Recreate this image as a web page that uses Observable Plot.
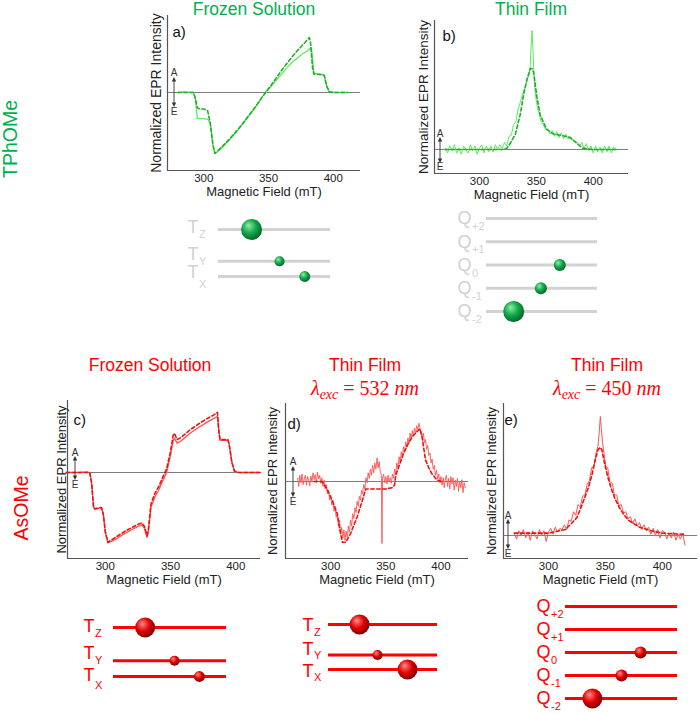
<!DOCTYPE html>
<html><head><meta charset="utf-8">
<script src="https://cdn.jsdelivr.net/npm/d3@7"></script>
<script src="https://cdn.jsdelivr.net/npm/@observablehq/plot@0.6"></script>
<style>
body{margin:0;background:#fff;}
#fig{position:relative;width:700px;height:714px;font-family:"Liberation Sans",Arial,sans-serif;overflow:hidden;background:#fff;}
.t{position:absolute;font-size:17.5px;transform:translate(-50%,-50%);white-space:nowrap;line-height:1;}
.lam{position:absolute;font-family:"Liberation Serif","DejaVu Serif",serif;font-size:20px;transform:translate(-50%,-50%);white-space:nowrap;line-height:1;color:#f00;}
.lam sub{font-size:14px;vertical-align:-0.25em;line-height:1;}
.row{position:absolute;font-size:19.5px;transform:translate(-50%,-50%) rotate(-90deg);white-space:nowrap;line-height:1;}
</style></head><body><div id="fig">
<div class="t" style="left:254px;top:10px;color:#00b050">Frozen Solution</div>
<div class="t" style="left:531px;top:10px;color:#00b050">Thin Film</div>
<div class="row" style="left:11px;top:139px;color:#00b050">TPhOMe</div>
<div class="row" style="left:22px;top:508px;color:#f00">AsOMe</div>
<div class="t" style="left:150px;top:366px;color:#f00">Frozen Solution</div>
<div class="t" style="left:365px;top:366px;color:#f00">Thin Film</div>
<div class="lam" style="left:365px;top:390px"><i>λ</i><sub><i>exc</i></sub> = 532 <i>nm</i></div>
<div class="t" style="left:607px;top:366px;color:#f00">Thin Film</div>
<div class="lam" style="left:607px;top:390px"><i>λ</i><sub><i>exc</i></sub> = 450 <i>nm</i></div>
</div>
<script>
// ---------------- DATA ----------------
const fieldTicks = [300, 350, 400];

// a) TPhOMe frozen solution  [field mT, normalized intensity]
const aSolid = [[280,0],[285,0.01],[290,0],[292,0],[293.5,-0.1],[295,-0.42],[297,-0.43],[300,-0.43],[303,-0.44],[305,-0.5],[307,-0.85],[308.5,-1],[310,-0.98],[313,-0.93],[316,-0.86],[320,-0.77],[325,-0.65],[330,-0.52],[335,-0.38],[340,-0.24],[345,-0.08],[348,0],[352,0.1],[356,0.2],[360,0.3],[364,0.4],[368,0.49],[372,0.56],[376,0.63],[380,0.68],[383,0.74],[384,0.55],[385,0.32],[388,0.3],[391,0.3],[393,0.28],[395,0.1],[397,0.01],[400,0],[405,0],[411,0]];
const aDashed = [[280,0],[285,0],[290,0],[292,0],[293.5,-0.1],[295,-0.25],[297,-0.27],[300,-0.27],[303,-0.3],[305,-0.5],[307,-0.85],[308.5,-1],[310,-0.97],[315,-0.87],[320,-0.76],[325,-0.64],[330,-0.51],[335,-0.37],[340,-0.23],[345,-0.08],[348,0.01],[352,0.12],[356,0.24],[360,0.36],[364,0.47],[368,0.58],[372,0.68],[376,0.77],[379,0.84],[381.5,0.9],[382.5,0.8],[384,0.4],[385,0.3],[388,0.3],[391,0.29],[393,0.28],[395,0.1],[397,0.01],[400,0],[405,0],[411,0]];

// b) TPhOMe thin film
const bSolid = [[270,0.01],[272,-0.03],[274,0.03],[276,-0.01],[278,0.04],[280,-0.03],[282,0.01],[284,-0.04],[286,0.03],[288,0],[290,-0.03],[292,0.04],[294,-0.01],[296,0.03],[298,-0.04],[300,0.01],[302,0.04],[304,-0.03],[306,0.03],[308,-0.02],[310,0.03],[312,-0.02],[314,0.04],[316,0],[318,0.04],[320,0.01],[322,0.06],[324,0.03],[326,0.11],[328,0.12],[330,0.21],[332,0.23],[334,0.34],[336,0.4],[338,0.47],[340,0.52],[342,0.59],[343.5,0.62],[344.5,0.69],[345.5,0.88],[346.2,1],[347,0.84],[347.6,0.7],[348.5,0.52],[349.5,0.44],[351,0.35],[352.5,0.3],[354,0.24],[356,0.21],[358,0.17],[360,0.17],[362,0.13],[364,0.16],[366,0.11],[368,0.15],[370,0.1],[372,0.14],[374,0.09],[376,0.13],[378,0.09],[380,0.09],[382,0.08],[384,0.07],[386,0.06],[388,0.03],[390,0.06],[392,0.01],[394,0.05],[396,-0.01],[398,0.03],[400,-0.03],[402,0.03],[404,-0.02],[406,0.02],[408,-0.03],[410,0.03],[412,-0.02],[414,0.03],[416,-0.03],[418,0.02],[420,0]];
const bDashed = [[270,0],[300,0],[320,0],[324,0.01],[327,0.05],[331.6,0.13],[336,0.3],[339,0.47],[341.8,0.59],[344.7,0.68],[346.2,0.68],[347.6,0.65],[349,0.55],[350.5,0.44],[353.4,0.29],[359,0.17],[365,0.13],[371,0.12],[380,0.1],[385.6,0.05],[391,0.01],[400,0],[420,0]];

// c) AsOMe frozen solution
const cSolid = [[270,0],[280,0],[286,0.01],[288,0],[289.5,-0.15],[291,-0.5],[292,-0.52],[295,-0.51],[297,-0.5],[298.5,-0.6],[300,-0.85],[302,-1],[305,-0.98],[310,-0.93],[315,-0.87],[320,-0.82],[325,-0.77],[328,-0.75],[330,-0.8],[332,-0.93],[333,-0.85],[335,-0.5],[338,-0.35],[341,-0.25],[344,-0.12],[347,0],[350,0.25],[352,0.45],[353,0.49],[355,0.42],[358,0.45],[365,0.56],[372,0.65],[378,0.72],[383,0.77],[386,0.8],[387,0.6],[388,0.46],[391,0.46],[394,0.46],[395,0.4],[397,0.15],[399,0.02],[402,0],[410,0],[419,0]];
const cDashed = [[270,0],[280,0],[286,0],[288,0],[289.5,-0.15],[291,-0.5],[292,-0.52],[295,-0.51],[297,-0.5],[298.5,-0.6],[300,-0.85],[302,-1],[305,-0.96],[310,-0.9],[315,-0.84],[320,-0.79],[325,-0.74],[328,-0.72],[330,-0.77],[332,-0.9],[333,-0.82],[335,-0.45],[338,-0.3],[341,-0.2],[344,-0.07],[347,0.05],[350,0.3],[352,0.53],[353,0.56],[355,0.47],[358,0.5],[365,0.61],[372,0.7],[378,0.77],[383,0.82],[386,0.86],[387,0.6],[388,0.47],[391,0.47],[394,0.47],[395,0.4],[397,0.15],[399,0.02],[402,0],[410,0],[419,0]];

// d) AsOMe thin film, 532 nm
const dSolid = [[270,0.05],[271,-0.08],[272,0.1],[273,-0.02],[274,0.12],[275,-0.05],[276,0.04],[277,0.1],[278,-0.06],[279,0.08],[280,0.02],[281,-0.07],[282,0.09],[283,0],[284,0.14],[285,0.03],[286,0.11],[287,-0.02],[288,0.15],[289,0.04],[290,0.1],[291,-0.03],[292,0.06],[293,-0.08],[294,0.02],[295,-0.12],[296,-0.05],[297,-0.2],[298,-0.14],[299,-0.3],[300,-0.22],[301,-0.38],[302,-0.3],[303,-0.48],[304,-0.42],[305,-0.58],[306,-0.5],[307,-0.72],[308,-0.62],[309,-0.85],[310,-0.74],[311,-0.92],[312,-0.78],[313,-0.95],[314,-0.8],[315,-0.9],[316,-0.72],[317,-0.82],[318,-0.62],[319,-0.72],[320,-0.52],[321,-0.6],[322,-0.42],[323,-0.5],[324,-0.32],[325,-0.4],[326,-0.24],[327,-0.3],[328,-0.14],[329,-0.2],[330,-0.05],[331,-0.12],[332,0.06],[333,-0.02],[334,0.14],[335,0.05],[336,0.2],[337,0.1],[338,0.26],[339,0.14],[340,0.3],[341,0.2],[342,0.38],[343,0.22],[344,0.32],[345,0.15],[346,0.1],[346.5,-1],[347,0.05],[348,0.12],[349,-0.02],[350,0.08],[351,-0.04],[352,0.1],[353,0],[354,0.06],[355,-0.03],[356,0.12],[357,0.05],[358,0.2],[359,0.12],[360,0.3],[361,0.22],[362,0.4],[363,0.32],[364,0.48],[365,0.4],[366,0.56],[367,0.48],[368,0.64],[369,0.55],[370,0.7],[371,0.62],[372,0.78],[373,0.68],[374,0.82],[375,0.74],[376,0.86],[377,0.78],[378,0.9],[379,0.84],[380,0.94],[381,0.86],[382,0.8],[383,0.72],[384,0.78],[385,0.62],[386,0.68],[387,0.52],[388,0.58],[389,0.42],[390,0.46],[391,0.3],[392,0.36],[393,0.2],[394,0.26],[395,0.1],[396,0.18],[397,0.04],[398,0.12],[399,-0.02],[400,0.08],[401,-0.06],[402,0.06],[403,-0.1],[404,0.04],[405,0.1],[406,-0.08],[407,0.05],[408,-0.12],[409,0.08],[410,-0.04],[411,0.06],[412,-0.14],[413,0.02],[414,-0.08],[415,0.05],[416,-0.16],[417,0],[418,-0.1],[419,0.03],[420,-0.18],[421,-0.02],[422,-0.1]];
const dDashed = [[285,0],[292,0],[296,-0.1],[300,-0.25],[303,-0.38],[306,-0.52],[308.5,-0.8],[310.6,-0.98],[313.6,-0.98],[318,-0.84],[324,-0.57],[328.8,-0.3],[331.8,-0.12],[340,-0.12],[350,-0.12],[356,-0.1],[358,-0.05],[359,0.1],[362,0.25],[366,0.45],[370,0.6],[374,0.72],[378,0.8],[381,0.85],[383,0.7],[386,0.35],[389,0.22],[392,0.12],[396,0.03],[400,0]];

// e) AsOMe thin film, 450 nm
const eSolid = [[270,0.02],[272,-0.03],[274,0.04],[276,0],[278,0.05],[280,-0.02],[282,0.03],[284,-0.04],[286,0.04],[288,0.01],[290,-0.03],[292,0.05],[294,0],[296,0.04],[298,-0.05],[300,0.03],[302,0.06],[304,0.01],[306,0.07],[308,0.03],[310,0.06],[312,0.05],[314,0.09],[316,0.05],[318,0.13],[320,0.12],[322,0.2],[324,0.17],[326,0.26],[328,0.24],[330,0.33],[332,0.34],[334,0.43],[336,0.46],[338,0.57],[340,0.58],[342,0.7],[343.5,0.75],[344.5,0.85],[345.6,1],[346.5,0.9],[347.5,0.78],[349,0.68],[350.5,0.58],[352,0.57],[354,0.45],[356,0.44],[358,0.34],[360,0.34],[362,0.25],[364,0.26],[366,0.19],[368,0.2],[370,0.14],[372,0.16],[374,0.1],[376,0.14],[378,0.08],[380,0.11],[382,0.05],[384,0.09],[386,0.04],[388,0.07],[390,0.01],[392,0.06],[394,0],[396,0.05],[398,-0.02],[400,0.04],[402,0.03],[404,-0.03],[406,0.02],[408,-0.02],[410,0.03],[412,-0.04],[414,0.01],[416,-0.03],[418,0.02],[420,-0.08]];
const eDashed = [[270,0.02],[300,0.02],[315,0.05],[320,0.1],[325,0.15],[330,0.27],[335,0.4],[338,0.5],[341,0.63],[343.5,0.72],[345.5,0.74],[347,0.72],[349,0.62],[352,0.5],[355,0.4],[358,0.32],[362,0.24],[366,0.18],[370,0.13],[375,0.1],[380,0.07],[390,0.04],[400,0.02],[420,0.01]];

// sublevel diagrams
const tripletNames = ["Z", "Y", "X"];
const tripletEnergy = [2.1, 0, -1];
const quintetNames = ["+2", "+1", "0", "-1", "-2"];
const quintetEnergy = [2, 1, 0, -1, -2];
const aSpherePos = [0.295, 0.545, 0.77];   const aSpherePop = [1, 0.23, 0.27];
const bSpherePos = [0, 0, 0.66, 0.49, 0.245]; const bSpherePop = [0, 0, 0.33, 0.33, 1];
const cSpherePos = [0.28, 0.54, 0.76];     const cSpherePop = [0.91, 0.23, 0.27];
const dSpherePos = [0.285, 0.45, 0.725];   const dSpherePop = [0.91, 0.23, 0.91];
const eSpherePos = [0, 0, 0.67, 0.5, 0.24];   const eSpherePop = [0, 0, 0.33, 0.33, 0.91];

// ---------------- DRAWING ----------------
const fig = document.getElementById("fig");
const FONT = "Liberation Sans, Arial, sans-serif";
const defsSvg = d3.select(fig).append("svg").attr("width", 0).attr("height", 0).style("position", "absolute");
const defs = defsSvg.append("defs");
function grad(id, c0, c1, c2) {
  const g = defs.append("radialGradient").attr("id", id).attr("cx", "42%").attr("cy", "40%").attr("r", "62%").attr("fx", "35%").attr("fy", "30%");
  g.append("stop").attr("offset", "0%").attr("stop-color", c0);
  g.append("stop").attr("offset", "55%").attr("stop-color", c1);
  g.append("stop").attr("offset", "100%").attr("stop-color", c2);
}
grad("sphG", "#8ff0a8", "#10a548", "#05652a");
grad("sphR", "#ff8a8a", "#e00000", "#7a0000");

function aeMark(x0, o) {
  return (index, scales) => {
    const g = d3.create("svg:g").attr("fill", "#333");
    const x = scales.x(x0) + o.dx, y = scales.y(0);
    g.append("line").attr("x1", x).attr("x2", x).attr("y1", y + o.up + 3).attr("y2", y + o.down - 3)
      .attr("stroke", "#333").attr("stroke-width", 0.9);
    g.append("path").attr("d", `M${x - 2.2},${y + o.up + 4.5}L${x},${y + o.up}L${x + 2.2},${y + o.up + 4.5}Z`);
    g.append("path").attr("d", `M${x - 2.2},${y + o.down - 4.5}L${x},${y + o.down}L${x + 2.2},${y + o.down - 4.5}Z`);
    g.append("text").attr("x", x).attr("y", y + o.a).attr("dy", "0.35em").attr("text-anchor", "middle")
      .attr("font-size", 10).attr("font-family", FONT).text("A");
    g.append("text").attr("x", x).attr("y", y + o.e).attr("dy", "0.35em").attr("text-anchor", "middle")
      .attr("font-size", 10).attr("font-family", FONT).text("E");
    return g.node();
  };
}

function spectrum(c) {
  const mL = 45, mR = 6, mT = 6, mB = 40;
  const plot = Plot.plot({
    width: c.R - c.L + mL + mR, height: c.B - c.T + mT + mB,
    marginLeft: mL, marginRight: mR, marginTop: mT, marginBottom: mB,
    x: {domain: c.xDomain}, y: {domain: c.yDomain, axis: null},
    style: {fontFamily: FONT, fontSize: "11px", color: "#222", background: "transparent", overflow: "visible"},
    marks: [
      Plot.ruleY([0], {stroke: "#7d7d7d", strokeWidth: 1}),
      Plot.line(c.solid, {x: d => d[0], y: d => d[1], stroke: c.solidColor, strokeWidth: c.sw}),
      Plot.line(c.dashed, {x: d => d[0], y: d => d[1], stroke: c.dashedColor, strokeWidth: 1.6, strokeDasharray: "3.5,2.5"}),
      Plot.axisX({ticks: fieldTicks, tickSize: 0, tickPadding: 3, label: null, fontSize: 11.5}),
      Plot.ruleX([c.xDomain[0]], {stroke: "#555", strokeWidth: 1.2}),
      Plot.ruleY([c.yDomain[0]], {stroke: "#555", strokeWidth: 1.2}),
      Plot.text(["Magnetic Field (mT)"], {frameAnchor: "bottom", dy: 25, fontSize: 13, fill: "#222"}),
      Plot.text(["Normalized EPR Intensity"], {frameAnchor: "left", textAnchor: "middle", rotate: -90, dx: c.ylDx, fontSize: c.ylSize, fill: "#222"}),
      Plot.text([c.letter], {frameAnchor: "top-left", textAnchor: "start", dx: c.letDx, dy: c.letDy, fontSize: 15, fill: "#111"}),
      aeMark(c.xDomain[0], c.ae)
    ]
  });
  plot.style.position = "absolute";
  plot.style.left = (c.L - mL) + "px";
  plot.style.top = (c.T - mT) + "px";
  fig.append(plot);
}

function levels(c) {
  const mL = 50, mR = 14, mT = 14, mB = 16;
  const rows = c.names.map((n, i) => ({n, e: c.energy[i], p: c.pos[i], w: c.pop[i]}));
  const labelMarks = rows.flatMap((r, i) => [
    Plot.text([r], {x: () => 0, y: "e", text: () => c.prefix, textAnchor: "end", dx: -c.gap, dy: c.labDy[i], fontSize: 18, fill: c.labelColor}),
    Plot.text([r], {x: () => 0, y: "e", text: "n", textAnchor: "start", dx: -c.gap + 0.5, dy: c.subDy[i], fontSize: 11, fill: c.labelColor})
  ]);
  const plot = Plot.plot({
    width: c.x1 - c.x0 + mL + mR, height: c.yBot - c.yTop + mT + mB,
    marginLeft: mL, marginRight: mR, marginTop: mT, marginBottom: mB,
    x: {domain: [0, 1], axis: null},
    y: {domain: [d3.min(c.energy), d3.max(c.energy)], axis: null},
    r: {type: "sqrt", domain: [0, 1], range: [0, 10.5]},
    style: {fontFamily: FONT, background: "transparent", overflow: "visible"},
    marks: [
      Plot.ruleY(rows, {y: "e", stroke: c.lineColor, strokeWidth: 3}),
      Plot.dot(rows.filter(d => d.w > 0), {x: "p", y: "e", r: "w", fill: `url(#${c.sphere})`, stroke: "none"}),
      ...labelMarks
    ]
  });
  plot.style.position = "absolute";
  plot.style.left = (c.x0 - mL) + "px";
  plot.style.top = (c.yTop - mT) + "px";
  fig.append(plot);
}

const gSolid = "#5ceb5c", gDashed = "#1fae2f", rSolid = "#ff5252", rDashed = "#ee1111";

spectrum({L: 167, R: 360, T: 15, B: 170, xDomain: [272, 421], yDomain: [-1.279, 1.262], solid: aSolid, dashed: aDashed,
  solidColor: gSolid, dashedColor: gDashed, sw: 1.3, letter: "a)", letDx: 5, letDy: 11, ylDx: -11, ylSize: 14,
  ae: {dx: 7, up: -15, down: 15, a: -19, e: 20}});
spectrum({L: 434, R: 628, T: 20, B: 173, xDomain: [260.5, 431], yDomain: [-0.202, 1.084], solid: bSolid, dashed: bDashed,
  solidColor: gSolid, dashedColor: gDashed, sw: 1, letter: "b)", letDx: 8, letDy: 10, ylDx: -11, ylSize: 13.5,
  ae: {dx: 6, up: -12, down: 14, a: -15.5, e: 17.5}});
spectrum({L: 67, R: 260, T: 400, B: 558, xDomain: [271, 419], yDomain: [-1.229, 1.029], solid: cSolid, dashed: cDashed,
  solidColor: rSolid, dashedColor: rDashed, sw: 1.3, letter: "c)", letDx: 6, letDy: 14, ylDx: -6, ylSize: 13,
  ae: {dx: 8, up: -16, down: 8, a: -20, e: 12}});
spectrum({L: 285, R: 468, T: 403, B: 558, xDomain: [259, 425], yDomain: [-1.242, 1.258], solid: dSolid, dashed: dDashed,
  solidColor: rSolid, dashedColor: rDashed, sw: 0.9, letter: "d)", letDx: 2, letDy: 15, ylDx: -13, ylSize: 13,
  ae: {dx: 8, up: -15, down: 16, a: -19, e: 21}});
spectrum({L: 503, R: 697, T: 403, B: 558, xDomain: [260.5, 431], yDomain: [-0.193, 1.109], solid: eSolid, dashed: eDashed,
  solidColor: rSolid, dashedColor: rDashed, sw: 1, letter: "e)", letDx: 1, letDy: 11, ylDx: -12, ylSize: 13,
  ae: {dx: 5, up: -16, down: 14, a: -20, e: 18}});

const grey = "#d2d2d2";
levels({x0: 218, x1: 330, yTop: 229, yBot: 276, names: tripletNames, energy: tripletEnergy, pos: aSpherePos, pop: aSpherePop,
  prefix: "T", gap: 20, labDy: [-2.5, -7.5, -4.5], subDy: [5, 0, 8], lineColor: grey, labelColor: grey, sphere: "sphG"});
levels({x0: 486, x1: 597, yTop: 218, yBot: 311, names: quintetNames, energy: quintetEnergy, pos: bSpherePos, pop: bSpherePop,
  prefix: "Q", gap: 15, labDy: [0, 0, 0, 0, 0], subDy: [8, 8, 8, 8, 8], lineColor: grey, labelColor: grey, sphere: "sphG"});
levels({x0: 113, x1: 226, yTop: 627, yBot: 676, names: tripletNames, energy: tripletEnergy, pos: cSpherePos, pop: cSpherePop,
  prefix: "T", gap: 19, labDy: [-1.5, -7, -1], subDy: [6, 0, 8.5], lineColor: "#ff0000", labelColor: "#ff0000", sphere: "sphR"});
levels({x0: 328, x1: 437, yTop: 624, yBot: 669, names: tripletNames, energy: tripletEnergy, pos: dSpherePos, pop: dSpherePop,
  prefix: "T", gap: 15, labDy: [1, -6, 2], subDy: [7.5, 0, 7.5], lineColor: "#ff0000", labelColor: "#ff0000", sphere: "sphR"});
levels({x0: 565, x1: 677, yTop: 606, yBot: 698, names: quintetNames, energy: quintetEnergy, pos: eSpherePos, pop: eSpherePop,
  prefix: "Q", gap: 15, labDy: [0, 0, 0, 0, 0], subDy: [8, 8, 8, 8, 8], lineColor: "#ff0000", labelColor: "#ff0000", sphere: "sphR"});
</script></body></html>
